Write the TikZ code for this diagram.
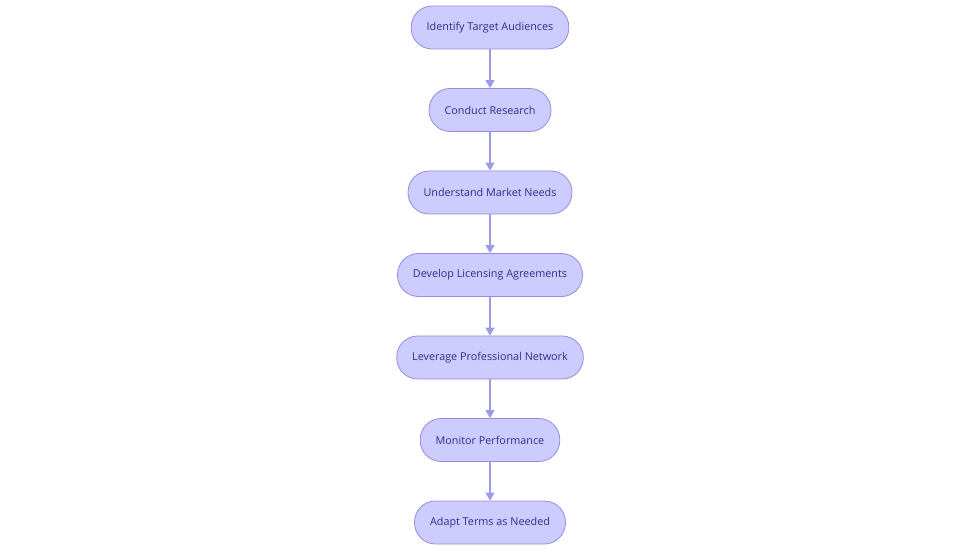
\documentclass[tikz,border=0pt]{standalone}
\usepackage{fontspec}
\setmainfont{Open Sans}
\usetikzlibrary{arrows.meta}
\definecolor{nodefill}{HTML}{CCCCFF}
\definecolor{nodedraw}{HTML}{9A8AE0}
\definecolor{nodetext}{HTML}{2E2E8C}
\definecolor{arrowcol}{HTML}{9C9CE6}
\begin{document}
\begin{tikzpicture}[x=1pt,y=-1pt,
  stepbox/.style={draw=nodedraw, fill=nodefill, text=nodetext, rounded corners=21pt,
    minimum height=43pt, inner xsep=15.5pt, font=\fontsize{10.8}{12}\selectfont, line width=0.8pt},
  conn/.style={draw=arrowcol, line width=1.4pt, -{Triangle[length=8pt,width=9pt]}}]
\useasboundingbox (0,0) rectangle (980,553);
\node[stepbox] (n1) at (490,27.5) {Identify Target Audiences};
\node[stepbox] (n2) at (490,110) {Conduct Research};
\node[stepbox] (n3) at (490,192.5) {Understand Market Needs};
\node[stepbox] (n4) at (490,275) {Develop Licensing Agreements};
\node[stepbox] (n5) at (490,357.5) {Leverage Professional Network};
\node[stepbox] (n6) at (490,440) {Monitor Performance};
\node[stepbox] (n7) at (490,522.5) {Adapt Terms as Needed};
\foreach \a/\b in {n1/n2,n2/n3,n3/n4,n4/n5,n5/n6,n6/n7}
  \draw[conn] (\a) -- (\b);
\end{tikzpicture}
\end{document}
